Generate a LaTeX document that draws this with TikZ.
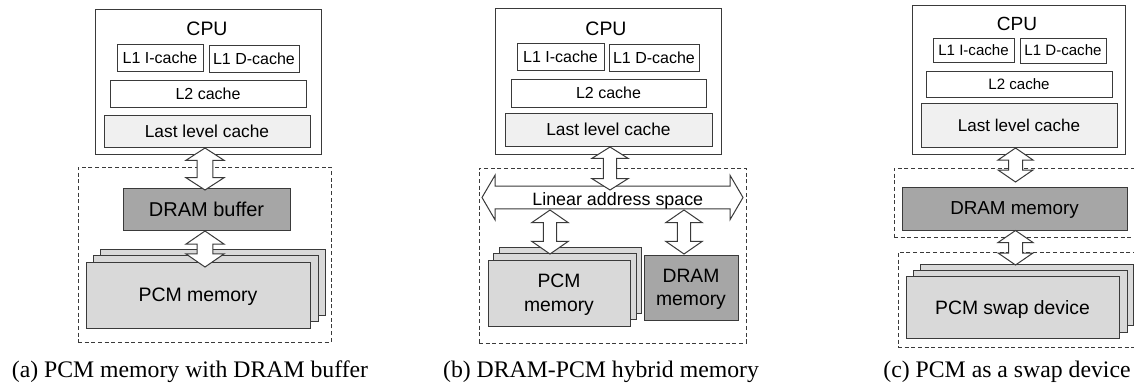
\documentclass[tikz,border=0pt]{standalone}
\usepackage{fontspec}
\setmainfont{Liberation Serif}
\setsansfont{Liberation Sans}
\usetikzlibrary{calc}
\definecolor{linec}{HTML}{3A3A3A}
\definecolor{llcfill}{HTML}{F0F0F0}
\definecolor{pcmfill}{HTML}{D9D9D9}
\definecolor{dramfill}{HTML}{A6A6A6}
\newcommand\fs[1]{\fontsize{#1}{#1}\selectfont}
\newcommand\bx[7]{\node[#6, minimum width={(#4-#2)*0.75pt}, minimum height={(#5-#3)*0.75pt}] (#1) at ({(#2+#4)/2},{(#3+#5)/2}) {#7};}
% vertical double arrow: top point, bottom point, half head width, half shaft width, head length
\newcommand\vdarrow[5]{\draw[dblarrow] let \p1=#1, \p2=#2 in
  (\x1,\y1) -- (\x1+#3,\y1-#5) -- (\x1+#4,\y1-#5) -- (\x1+#4,\y2+#5) -- (\x1+#3,\y2+#5) -- (\x1,\y2)
  -- (\x1-#3,\y2+#5) -- (\x1-#4,\y2+#5) -- (\x1-#4,\y1-#5) -- (\x1-#3,\y1-#5) -- cycle;}
% horizontal double arrow: left point, right point, half head width, half shaft width, head length
\newcommand\hdarrow[5]{\draw[dblarrow] let \p1=#1, \p2=#2 in
  (\x1,\y1) -- (\x1+#5,\y1+#3) -- (\x1+#5,\y1+#4) -- (\x2-#5,\y1+#4) -- (\x2-#5,\y1+#3) -- (\x2,\y1)
  -- (\x2-#5,\y1-#3) -- (\x2-#5,\y1-#4) -- (\x1+#5,\y1-#4) -- (\x1+#5,\y1-#3) -- cycle;}
\begin{document}
\begin{tikzpicture}[x=0.75pt,y=-0.75pt,
  box/.style={draw=linec, line width=0.75pt, inner sep=0pt, outer sep=0pt, text=black, text depth=0pt},
  dbox/.style={draw=linec, line width=0.6pt, dash pattern=on 3pt off 2pt, inner sep=0pt, outer sep=0pt},
  geo/.style={inner sep=0pt, outer sep=0pt},
  dblarrow/.style={draw=linec, line width=0.75pt, fill=white, line join=miter},
  captxt/.style={font=\rmfamily\fs{17.8pt}, anchor=base, inner sep=0pt},
  lbl/.style={anchor=base, inner sep=0pt, text=black}]
\path[use as bounding box] (0,0) rectangle (1134,389);
\clip (0,0) rectangle (1134,389);

% ---------------- (a) ----------------
\bx{cpuA}{95}{9}{321}{154}{box}{}
\node[lbl, font=\sffamily\fs{14.6pt}] (cpuAt) at (207,36) {CPU};
\bx{l1iA}{117}{44}{203}{71}{box, font=\sffamily\fs{12pt}}{L1 I-cache}
\bx{l1dA}{209}{45}{299}{72}{box, font=\sffamily\fs{12pt}}{L1 D-cache}
\bx{l2A}{110}{80}{306}{107}{box, font=\sffamily\fs{12pt}}{L2 cache}
\bx{llcA}{104}{115}{310}{147}{box, fill=llcfill, font=\sffamily\fs{13pt}}{Last level cache}
\bx{memA}{78}{167}{331}{342}{dbox}{}
\bx{dramA}{123}{188}{290}{230}{box, fill=dramfill, font=\sffamily\fs{15pt}}{DRAM buffer}
\bx{pcmA3}{100}{249}{325}{315}{box, fill=pcmfill}{}
\bx{pcmA2}{93}{255}{318}{321}{box, fill=pcmfill}{}
\bx{pcmA1}{86}{262}{310}{328}{box, fill=pcmfill, font=\sffamily\fs{14.6pt}}{PCM memory}
\vdarrow{($(llcA.south)+(-2,1)$)}{($(dramA.north)+(0,2)$)}{14.25pt}{5.85pt}{9.2pt}
\vdarrow{($(dramA.south)+(-1.5,1)$)}{($(pcmA1.north)+(0,5)$)}{14.25pt}{5.85pt}{9.8pt}
\node[captxt] (capA) at (190,377) {(a) PCM memory with DRAM buffer};

% ---------------- (b) ----------------
\bx{cpuB}{495}{8}{721}{154}{box}{}
\node[lbl, font=\sffamily\fs{14.6pt}] (cpuBt) at (606,35) {CPU};
\bx{l1iB}{517}{43}{604}{70}{box, font=\sffamily\fs{12pt}}{L1 I-cache}
\bx{l1dB}{609}{44}{699}{71}{box, font=\sffamily\fs{12pt}}{L1 D-cache}
\bx{l2B}{511}{79}{706}{107}{box, font=\sffamily\fs{12pt}}{L2 cache}
\bx{llcB}{505}{113}{712}{146}{box, fill=llcfill, font=\sffamily\fs{13pt}}{Last level cache}
\bx{memB}{479}{168}{746}{343}{dbox}{}
\bx{pcmB3}{499}{247}{641}{313}{box, fill=pcmfill}{}
\bx{pcmB2}{493}{253}{636}{319}{box, fill=pcmfill}{}
\bx{pcmB1}{488}{260}{630}{326}{box, fill=pcmfill, align=center, font=\sffamily\fontsize{14.5pt}{18.3pt}\selectfont}{PCM\\memory}
\bx{dramB}{644}{255}{738}{320}{box, fill=dramfill, align=center, font=\sffamily\fontsize{14.5pt}{17.6pt}\selectfont}{DRAM\\memory}
\bx{lin}{482}{186}{743}{209}{geo}{}
\hdarrow{(lin.west)}{(lin.east)}{16.7pt}{8.6pt}{9.75pt}
\node[lbl, font=\sffamily\fs{13.4pt}] (lint) at (617.8,205) {Linear address space};
\vdarrow{($(llcB.south)+(1.5,1)$)}{($(lin.north)+(0,4)$)}{13.7pt}{5pt}{8.6pt}
\vdarrow{($(lin.south -| pcmB1.north)+(-9,1)$)}{($(pcmB1.north)+(0,-6)$)}{13.7pt}{5pt}{9.5pt}
\vdarrow{($(lin.south -| dramB.north)+(-7,1)$)}{($(dramB.north)+(0,-1)$)}{13.7pt}{5pt}{9.5pt}
\node[captxt] (capB) at (601,377) {(b) DRAM-PCM hybrid memory};

% ---------------- (c) ----------------
\bx{cpuC}{912}{5}{1125}{154}{box}{}
\node[lbl, font=\sffamily\fs{14.3pt}] (cpuCt) at (1017,30) {CPU};
\bx{l1iC}{933}{38}{1014}{62}{box, font=\sffamily\fs{11.3pt}}{L1 I-cache}
\bx{l1dC}{1020}{38}{1106}{63}{box, font=\sffamily\fs{11.3pt}}{L1 D-cache}
\bx{l2C}{926}{71}{1112}{97}{box, font=\sffamily\fs{11.3pt}}{L2 cache}
\bx{llcC}{921}{103}{1117}{147}{box, fill=llcfill, font=\sffamily\fs{12.8pt}}{Last level cache}
\bx{memC1}{894}{168}{1150}{237}{dbox}{}
\bx{memC2}{898}{252}{1150}{347}{dbox}{}
\bx{dramC}{902}{187}{1127}{230}{box, fill=dramfill, font=\sffamily\fs{14.1pt}}{DRAM memory}
\bx{pcmC3}{920}{264}{1133}{325}{box, fill=pcmfill}{}
\bx{pcmC2}{913}{270}{1127}{332}{box, fill=pcmfill}{}
\bx{pcmC1}{906}{276}{1119}{338}{box, fill=pcmfill, font=\sffamily\fs{14.5pt}}{PCM swap device}
\vdarrow{($(llcC.south)+(-3.5,1)$)}{($(dramC.north)+(0,-5)$)}{13.1pt}{5.25pt}{9pt}
\vdarrow{($(dramC.south)+(1,0.5)$)}{($(pcmC1.north)+(0,-11)$)}{13.1pt}{5.25pt}{9pt}
\node[captxt] (capC) at (1007,377) {(c) PCM as a swap device};
\end{tikzpicture}
\end{document}
